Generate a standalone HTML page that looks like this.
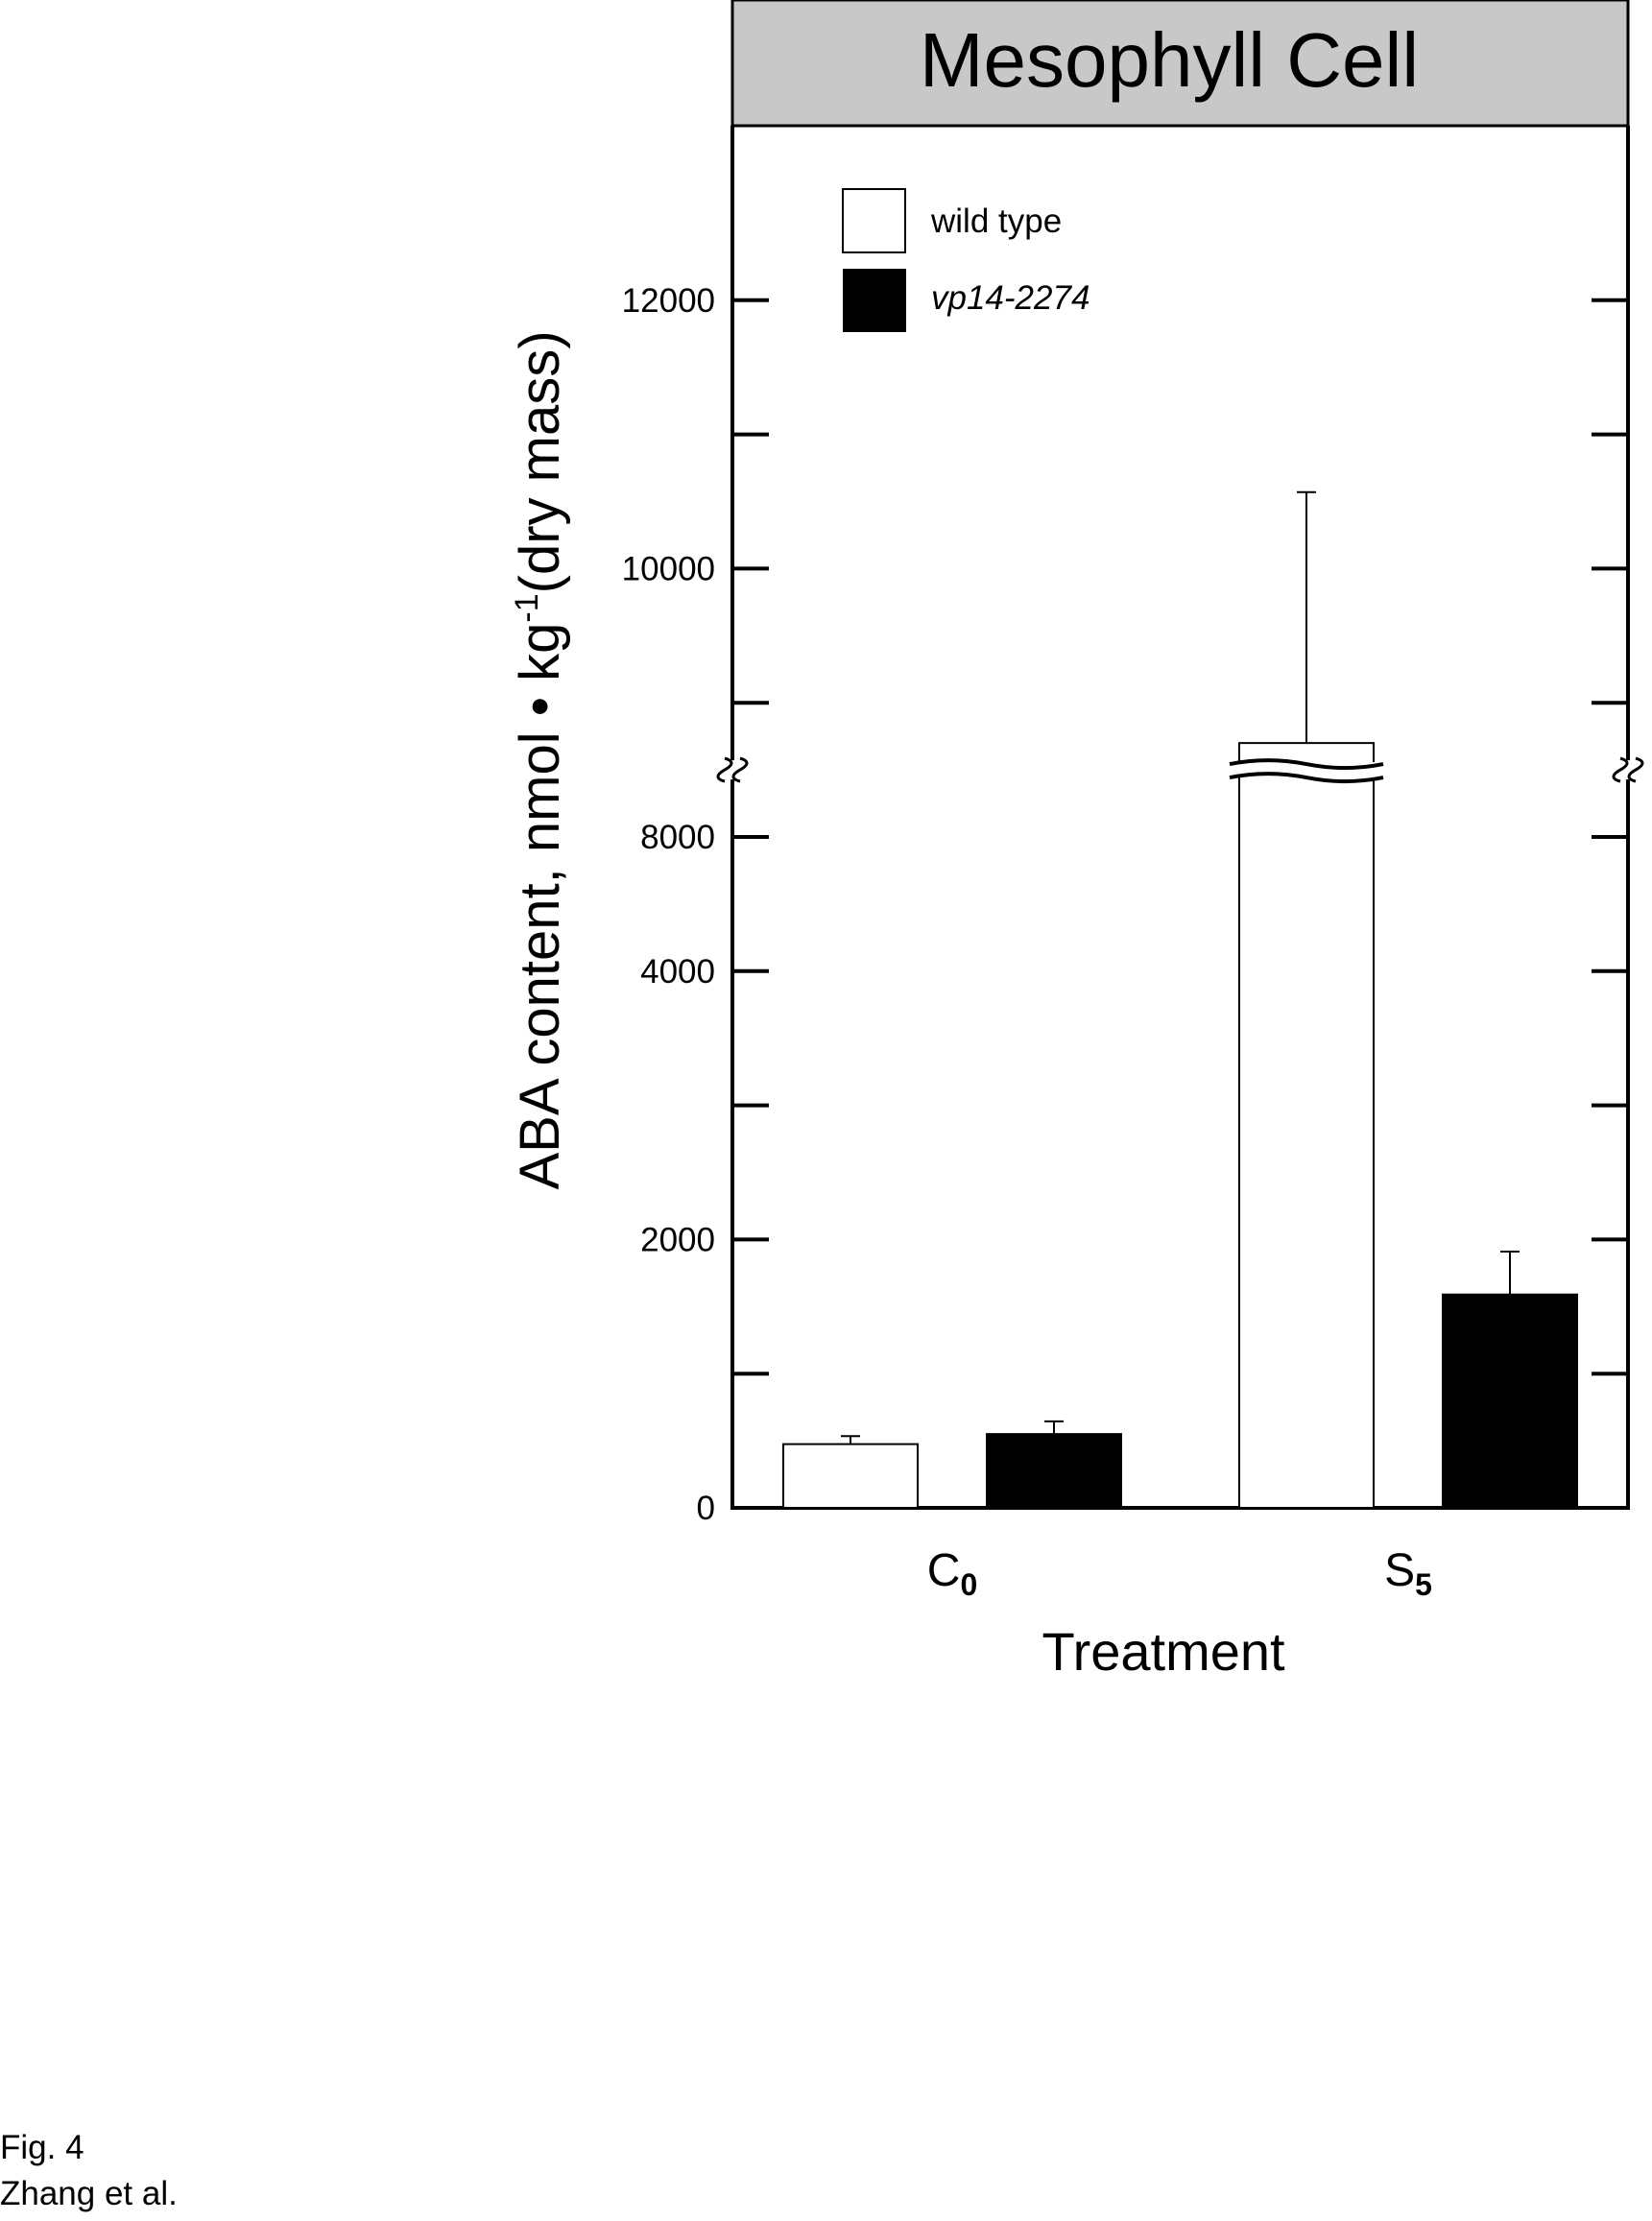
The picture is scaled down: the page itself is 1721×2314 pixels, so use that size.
<!DOCTYPE html>
<html><head><meta charset="utf-8"><style>
html,body{margin:0;padding:0;background:#fff}
svg text{font-family:"Liberation Sans",Arial,sans-serif;fill:#000}
</style></head><body>
<svg id="chart" width="1721" height="2309" xmlns="http://www.w3.org/2000/svg">
<rect x="763" y="0" width="933" height="131" fill="#c8c8c8" stroke="#000" stroke-width="3"/>
<text x="1218" y="90" font-size="80" text-anchor="middle">Mesophyll Cell</text>
<g id="plot"></g>
<text transform="translate(582,792) rotate(-90)" font-size="58" text-anchor="middle">ABA content, nmol • kg<tspan font-size="34" dy="-22">-1</tspan><tspan dy="22">(dry mass)</tspan></text>
<text x="1212" y="1740" font-size="56" text-anchor="middle">Treatment</text>
<g>
<rect x="878" y="197" width="65" height="66" fill="#fff" stroke="#000" stroke-width="2"/>
<text x="970" y="242" font-size="35">wild type</text>
<rect x="878" y="280" width="66" height="66" fill="#000"/>
<text x="970" y="322" font-size="35" font-style="italic">vp14-2274</text>
</g>
<text x="0" y="2249" font-size="35">Fig. 4</text>
<text x="0" y="2297" font-size="35">Zhang et al.</text>
</svg>
<script>
const categories = ["C0", "S5"];
const wildType = [475, 8700];
const wildTypeErr = [60, 1870];
const vp14 = [550, 1590];
const vp14Err = [95, 320];
const tickValues = [0,1000,2000,3000,4000,5000,8000,9000,10000,11000,12000];
const tickLabels = ["0","","2000","","4000","","8000","","10000","","12000"];

const NS="http://www.w3.org/2000/svg";
const g=document.getElementById('plot');
const L=763,R=1696,Y0=1571,K=0.1398,TOP=131;
function yScale(v){return v<=5500? Y0-v*K : Y0-(v-3000)*K;}
const yBreak=Y0-5500*K;
const groupX=[816,1291], barW=140, gap=72;
function mk(t,a,name){const e=document.createElementNS(NS,t);for(const k in a)e.setAttribute(k,a[k]);


g.appendChild(e);return e;}
// frame
mk('path',{d:`M${L} ${TOP} V${Y0} H${R} V${TOP}`,fill:'none',stroke:'#000','stroke-width':4},'plot-frame');
tickValues.forEach((v,i)=>{const y=yScale(v);
 mk('line',{x1:L,x2:L+38,y1:y,y2:y,stroke:'#000','stroke-width':4},'y-tick-left');
 mk('line',{x1:R-38,x2:R,y1:y,y2:y,stroke:'#000','stroke-width':4},'y-tick-right');
 if(tickLabels[i]){const t=mk('text',{x:745,y:y+12,'font-size':35,'text-anchor':'end'},'y-tick-label');t.textContent=tickLabels[i];}
});
function drawBar(x,v,e,fill,name){
 const y=yScale(v);
 mk('line',{x1:x+barW/2,x2:x+barW/2,y1:y,y2:yScale(v+e),stroke:'#000','stroke-width':2},name+'-error');
 mk('line',{x1:x+barW/2-10,x2:x+barW/2+10,y1:yScale(v+e),y2:yScale(v+e),stroke:'#000','stroke-width':2},name+'-error-cap');
 mk('rect',{x:x,y:y,width:barW,height:Y0-y,fill:fill,stroke:'#000','stroke-width':2},name);
 if(v>5500){
  mk('rect',{x:x-8,y:yBreak-8,width:barW+16,height:16,fill:'#fff'},name+'-break-gap');
  mk('path',{d:`M${x-10} ${yBreak-6} q${(barW+20)/4} -8 ${(barW+20)/2} 0 t${(barW+20)/2} 0`,fill:'none',stroke:'#000','stroke-width':4},name+'-break-top');
  mk('path',{d:`M${x-10} ${yBreak+8} q${(barW+20)/4} -8 ${(barW+20)/2} 0 t${(barW+20)/2} 0`,fill:'none',stroke:'#000','stroke-width':4},name+'-break-bottom');
 }
}
categories.forEach((c,i)=>{
 drawBar(groupX[i],wildType[i],wildTypeErr[i],'#fff','bar-wild-type-'+c);
 drawBar(groupX[i]+barW+gap,vp14[i],vp14Err[i],'#000','bar-vp14-'+c);
 const t=mk('text',{x:groupX[i]+barW+gap/2,y:1652,'font-size':48,'text-anchor':'middle'},'x-tick-label');
 t.innerHTML=c[0]+'<tspan font-size="32" font-weight="bold" dy="10">'+c.slice(1)+'</tspan>';
});
// axis break squiggles
[L,R].forEach((x,i)=>{
 mk('rect',{x:x-6,y:yBreak-10,width:12,height:20,fill:'#fff'},'axis-break-gap');
 mk('path',{d:`M${x-8} ${yBreak-12} q14 4 0 12 q-14 8 0 12`,fill:'none',stroke:'#000','stroke-width':3},'axis-break-mark');
 mk('path',{d:`M${x+8} ${yBreak-12} q14 4 0 12 q-14 8 0 12`,fill:'none',stroke:'#000','stroke-width':3},'axis-break-mark');
});
</script>
</body></html>
